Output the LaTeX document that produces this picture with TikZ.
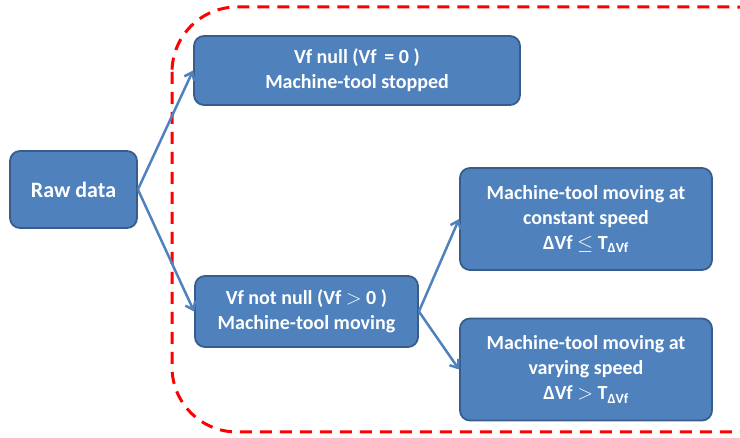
\documentclass[tikz,border=0pt]{standalone}
\usepackage{fontspec}
\setmainfont{Carlito}
\usetikzlibrary{arrows.meta}
\definecolor{box_blue}{RGB}{79,129,189}
\definecolor{box_edge}{RGB}{56,93,138}
\definecolor{dash_red}{RGB}{255,0,0}

\tikzset{
	statebox/.style={rounded corners=10pt,draw=box_edge,line width=1.8pt,fill=box_blue,
		text=white,align=center,font=\fontsize{20}{25}\selectfont\bfseries,inner sep=0pt},
	branch/.style={draw=box_blue,line width=2.5pt,-{Straight Barb[length=7pt,width=11pt,line width=2.5pt]}}
}

\begin{document}
\begin{tikzpicture}[x=1pt,y=-1pt]
	\useasboundingbox (0,0) rectangle (740,438);
	\clip (0,0) rectangle (740,438);
	
	\draw[dash_red,line width=3pt,dash pattern=on 12pt off 8pt,rounded corners=65pt]
		(172,7) rectangle (800,432);
	
	\node[statebox,minimum width=127pt,minimum height=77pt,font=\fontsize{22}{27}\selectfont\bfseries]
		(raw) at (73.5,189.5) {Raw data};
	\node[statebox,minimum width=326pt,minimum height=69pt] (null) at (357,70.5)
		{Vf null (Vf\, = 0 )\\Machine-tool stopped};
	\node[statebox,minimum width=223pt,minimum height=71pt] (moving) at (306.5,311.5)
		{Vf not null (Vf $>$ 0 )\\Machine-tool moving};
	\node[statebox,minimum width=252pt,minimum height=102pt] (const) at (586,219)
		{Machine-tool moving at\\constant speed\\ΔVf $\leq$ T\textsubscript{ΔVf}};
	\node[statebox,minimum width=252pt,minimum height=102pt] (vary) at (586,369.5)
		{Machine-tool moving at\\varying speed\\ΔVf $>$ T\textsubscript{ΔVf}};
	
	\foreach \x/\y in {raw/null,raw/moving,moving/const,moving/vary}
		\draw[branch] (\x.east) -- (\y.west);
\end{tikzpicture}
\end{document}
